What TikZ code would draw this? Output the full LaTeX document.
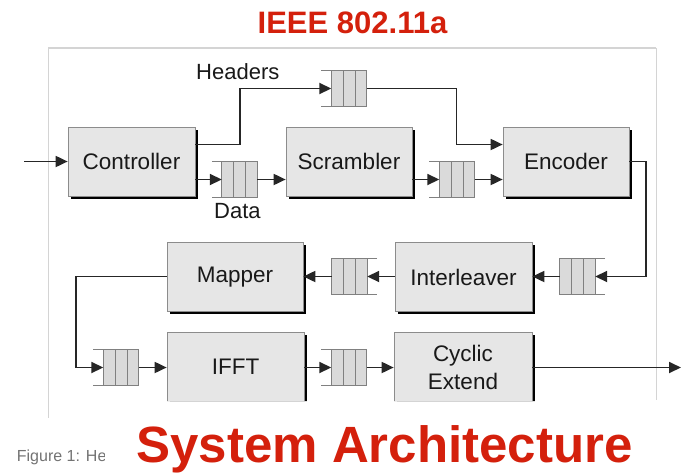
\documentclass[tikz,border=0pt]{standalone}
\usepackage{fontspec}
\setmainfont{Liberation Sans}
\usetikzlibrary{arrows.meta,shadows,calc}
\definecolor{titlered}{RGB}{212,32,12}
\definecolor{boxfill}{RGB}{230,230,230}
\definecolor{qfill}{RGB}{218,218,218}
\definecolor{framegray}{RGB}{212,212,212}
\tikzset{
  blk/.style={rectangle, draw=black!45, line width=0.7pt, fill=boxfill,
    minimum height=69pt, inner sep=0pt, text=black!90,
    font=\fontsize{22.5}{28}\selectfont, align=center,
    general shadow={fill=black, shadow xshift=2.8pt, shadow yshift=-2.8pt}},
  qnode/.style={rectangle, minimum width=35pt, minimum height=35pt, inner sep=0pt, fill=qfill},
  qline/.style={draw=black!50, line width=0.8pt},
  arr/.style={draw=black!85, line width=1.8pt, -{Triangle[length=12pt,width=11pt]}},
  lbl/.style={font=\fontsize{22}{26}\selectfont, text=black!90, inner sep=0pt}
}
\newcommand\queueL[1]{%
  \draw[qline] ([xshift=-10pt]#1.north west) -- (#1.north east) -- (#1.south east) -- ([xshift=-10pt]#1.south west);
  \draw[qline] (#1.north west) -- (#1.south west);
  \draw[qline] ($(#1.north west)!1/3!(#1.north east)$) -- ($(#1.south west)!1/3!(#1.south east)$);
  \draw[qline] ($(#1.north west)!2/3!(#1.north east)$) -- ($(#1.south west)!2/3!(#1.south east)$);}
\newcommand\queueR[1]{%
  \draw[qline] ([xshift=10pt]#1.north east) -- (#1.north west) -- (#1.south west) -- ([xshift=10pt]#1.south east);
  \draw[qline] (#1.north east) -- (#1.south east);
  \draw[qline] ($(#1.north west)!1/3!(#1.north east)$) -- ($(#1.south west)!1/3!(#1.south east)$);
  \draw[qline] ($(#1.north west)!2/3!(#1.north east)$) -- ($(#1.south west)!2/3!(#1.south east)$);}
\begin{document}
\begin{tikzpicture}[x=1pt,y=-1pt]
\fill[white] (0,0) rectangle (681,472);
\useasboundingbox (0,0) rectangle (681,472);
% title
\node[font=\fontsize{31}{36}\selectfont\bfseries, text=titlered, inner sep=0pt, anchor=base] (title) at (352.5,33.3) {IEEE 802.11a};
% frame
\draw[framegray, line width=2.5pt] (48,48) -- (656,48);
\draw[framegray, line width=1pt] (48,48) -- (48,418);
\draw[framegray, line width=1pt] (656,48) -- (656,400);
\begin{scope}
\clip (0,0) -- (681,0) -- (681,401) -- (106,401) -- (106,472) -- (0,472) -- cycle;
% blocks
\node[blk, minimum width=127pt] (ctrl) at (131.5,161.5) {Controller};
\node[blk, minimum width=126pt] (scr) at (349,161.5) {Scrambler};
\node[blk, minimum width=126pt] (enc) at (566,161.5) {Encoder};
\node[blk, minimum width=136pt] (map) at (235,277) {Mapper};
\node[blk, minimum width=137pt] (intl) at (463.5,277) {Interleaver};
\node[blk, minimum width=137pt] (ifft) at (235.5,367) {IFFT};
\node[blk, minimum width=138pt] (cyc) at (463,367) {Cyclic\\Extend};
% queues
\node[qnode] (q1) at (349,88.5) {};
\node[qnode] (q2) at (239.5,179.5) {};
\node[qnode] (q3) at (457,179.5) {};
\node[qnode] (q4) at (577.5,276.5) {};
\node[qnode] (q5) at (349.5,276.5) {};
\node[qnode] (q6) at (121,367.5) {};
\node[qnode] (q7) at (349,367.5) {};
\queueL{q1}\queueL{q2}\queueL{q3}\queueR{q4}\queueR{q5}\queueL{q6}\queueL{q7}
% labels
\node[lbl, anchor=base west] (hdr) at (196,79) {Headers};
\node[lbl, anchor=base west] (dat) at (214,218.3) {Data};
% connectors
\coordinate (in) at (24,161.5);
\coordinate (h1) at (240,88.5);
\coordinate (h2) at (456.5,88.5);
\coordinate (e1) at (646,161.5);
\coordinate (m1) at (76,276.5);
\coordinate (out) at (681,367.5);
\draw[arr] (in) -- (ctrl.west);
\draw[arr] ([yshift=17pt]ctrl.east) -| (h1) -- (q1.west);
\draw[arr] (q1.east) -- (h2) |- ([yshift=17pt]enc.west);
\draw[arr] (ctrl.east |- q2.west) -- (q2.west);
\draw[arr] (q2.east) -- (scr.west |- q2.east);
\draw[arr] (scr.east |- q3.west) -- (q3.west);
\draw[arr] (q3.east) -- (enc.west |- q3.east);
\draw[arr] (enc.east) -- (e1) |- (q4.east);
\draw[arr] (q4.west) -- (intl.east |- q4.west);
\draw[arr] (intl.west |- q5.east) -- (q5.east);
\draw[arr] (q5.west) -- (map.east |- q5.west);
\draw[arr] (map.west |- m1) -- (m1) |- (q6.west);
\draw[arr] (q6.east) -- (ifft.west |- q6.east);
\draw[arr] (ifft.east |- q7.west) -- (q7.west);
\draw[arr] (q7.east) -- (cyc.west |- q7.east);
\draw[arr] (cyc.east |- out) -- (out);
\end{scope}
% caption fragment
\begin{scope}
\clip (0,400) rectangle (104,472);
\node[font=\fontsize{16}{19}\selectfont, text=black!55, inner sep=0pt, anchor=base west] (fig) at (16.7,461) {Figure 1: He};
\end{scope}
\node[font=\fontsize{51}{60}\selectfont\bfseries, text=titlered, inner sep=0pt, anchor=base] (sys) at (384.5,462) {System Architecture};
\end{tikzpicture}
\end{document}
